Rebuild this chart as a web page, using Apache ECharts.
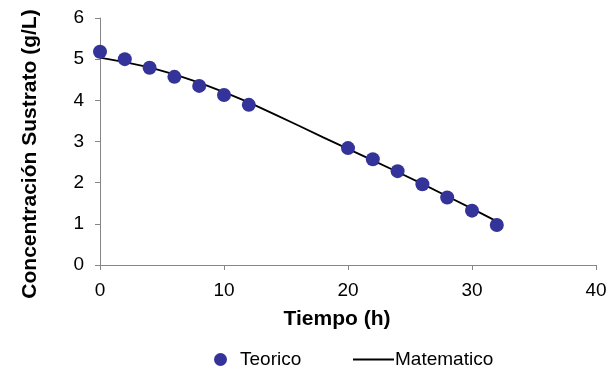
<!DOCTYPE html>
<html>
<head>
<meta charset="utf-8">
<script src="https://cdn.jsdelivr.net/npm/echarts@6/dist/echarts.min.js"></script>
<style>
  html, body { margin: 0; padding: 0; background: #ffffff; }
  #chart { width: 611px; height: 369px; }
</style>
</head>
<body>
<div id="chart"></div>
<script>
// Measured substrate concentration (g/L) over time (h)
var tiempo = [0, 2, 4, 6, 8, 10, 12, 20, 22, 24, 26, 28, 30, 32];
var teorico = [5.18, 5.00, 4.79, 4.57, 4.35, 4.13, 3.89, 2.84, 2.57, 2.28, 1.96, 1.64, 1.32, 0.97];

// Model curve, evaluated every 2 h
var tiempoModelo = [0, 2, 4, 6, 8, 10, 12, 14, 16, 18, 20, 22, 24, 26, 28, 30, 32];
var matematico = [5.04, 4.93, 4.80, 4.63, 4.43, 4.20, 3.95, 3.67, 3.39, 3.10, 2.82, 2.54, 2.26, 1.97, 1.67, 1.37, 1.06];

// Axis ticks
var xTicks = [0, 10, 20, 30, 40];
var yTicks = [0, 1, 2, 3, 4, 5, 6];

var FONT = '"Liberation Sans", Arial, sans-serif';
var AXIS_GRAY = '#868686';

function pairs(xs, ys) {
  return xs.map(function (x, i) { return [x, ys[i]]; });
}

var chart = echarts.init(document.getElementById('chart'), null, { renderer: 'canvas' });

chart.setOption({
  backgroundColor: '#ffffff',
  animation: false,
  textStyle: { fontFamily: FONT },
  grid: { left: 100, right: 15, top: 18, bottom: 104, containLabel: false },
  xAxis: {
    type: 'value',
    min: xTicks[0],
    max: xTicks[xTicks.length - 1],
    interval: xTicks[1] - xTicks[0],
    axisLine: { show: true, onZero: false, lineStyle: { color: AXIS_GRAY, width: 1 } },
    axisTick: { show: true, inside: false, length: 5, lineStyle: { color: AXIS_GRAY } },
    axisLabel: { color: '#000000', fontSize: 19, fontFamily: FONT, margin: 16 },
    splitLine: { show: false }
  },
  yAxis: {
    type: 'value',
    min: yTicks[0],
    max: yTicks[yTicks.length - 1],
    interval: yTicks[1] - yTicks[0],
    axisLine: { show: true, onZero: false, lineStyle: { color: AXIS_GRAY, width: 1 } },
    axisTick: { show: true, inside: false, length: 5, lineStyle: { color: AXIS_GRAY } },
    axisLabel: { color: '#000000', fontSize: 19, fontFamily: FONT, margin: 16 },
    splitLine: { show: false }
  },
  legend: [
    {
      data: [{ name: 'Teorico', icon: 'circle' }],
      left: 209,
      top: 345,
      itemWidth: 13,
      itemHeight: 13,
      itemGap: 0,
      textStyle: { color: '#000000', fontSize: 19, fontFamily: FONT, padding: [0, 0, 0, 8] }
    },
    {
      data: [{ name: 'Matematico', icon: 'rect' }],
      left: 348,
      top: 345,
      itemWidth: 41,
      itemHeight: 2,
      itemGap: 0,
      itemStyle: { color: '#000000' },
      textStyle: { color: '#000000', fontSize: 19, fontFamily: FONT, padding: [0, 0, 0, -4] }
    }
  ],
  graphic: [
    {
      type: 'text',
      x: 30,
      y: 154,
      rotation: Math.PI / 2,
      style: {
        text: 'Concentración Sustrato (g/L)',
        font: 'bold 21px ' + FONT,
        fill: '#000000',
        textAlign: 'center',
        textVerticalAlign: 'middle'
      }
    },
    {
      type: 'text',
      x: 337,
      y: 319,
      style: {
        text: 'Tiempo (h)',
        font: 'bold 21px ' + FONT,
        fill: '#000000',
        textAlign: 'center',
        textVerticalAlign: 'middle'
      }
    }
  ],
  series: [
    {
      name: 'Matematico',
      type: 'line',
      data: pairs(tiempoModelo, matematico),
      smooth: false,
      symbol: 'none',
      lineStyle: { color: '#000000', width: 1.8 },
      itemStyle: { color: '#000000' },
      z: 2
    },
    {
      name: 'Teorico',
      type: 'scatter',
      data: pairs(tiempo, teorico),
      symbol: 'circle',
      symbolSize: 14,
      itemStyle: { color: '#333399', opacity: 1 },
      z: 3
    }
  ]
});
</script>
</body>
</html>
